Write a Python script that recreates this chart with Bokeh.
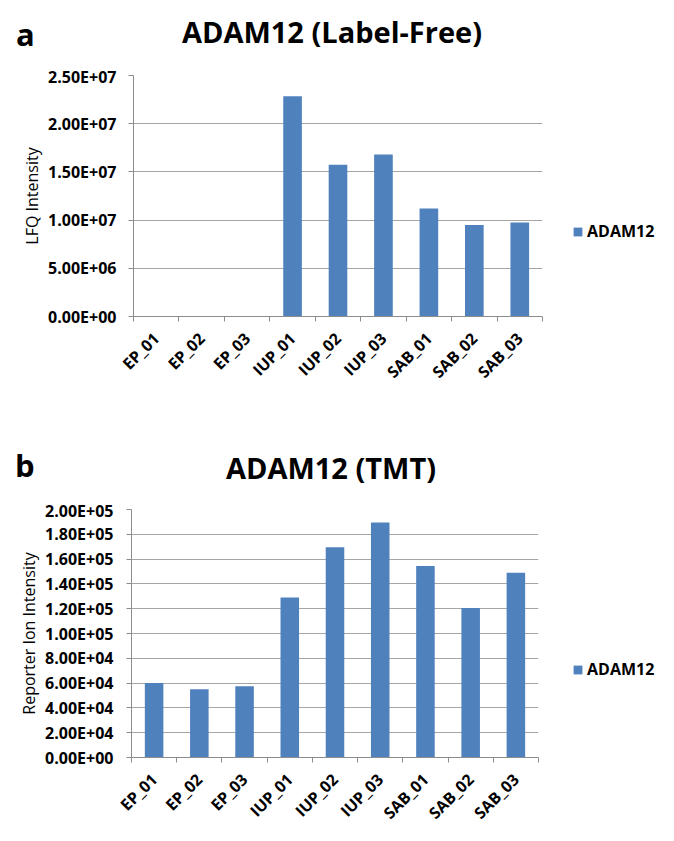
import math
from bokeh.plotting import figure
from bokeh.models import (Range1d, FixedTicker, LinearAxis, Div,
                          Legend, LegendItem, CustomJSTickFormatter, ColumnDataSource)
from bokeh.layouts import column, row
from bokeh.embed import file_html
from bokeh.resources import INLINE

# ---------------- data ----------------
samples = ["EP_01", "EP_02", "EP_03", "IUP_01", "IUP_02", "IUP_03", "SAB_01", "SAB_02", "SAB_03"]
series_name = "ADAM12"

lfq_values = [0, 0, 0, 2.285e7, 1.575e7, 1.68e7, 1.12e7, 9.5e6, 9.75e6]
lfq_ticks = [0, 5e6, 1e7, 1.5e7, 2e7, 2.5e7]
lfq_title = "ADAM12 (Label-Free)"
lfq_ylabel = "LFQ Intensity"

tmt_values = [6.0e4, 5.5e4, 5.75e4, 1.29e5, 1.695e5, 1.895e5, 1.545e5, 1.205e5, 1.49e5]
tmt_ticks = [0, 2e4, 4e4, 6e4, 8e4, 1e5, 1.2e5, 1.4e5, 1.6e5, 1.8e5, 2e5]
tmt_title = "ADAM12 (TMT)"
tmt_ylabel = "Reporter Ion Intensity"

# ---------------- style ----------------
FONT = "Open Sans"
BAR = "#4F81BD"
GRID = "#a6a6a6"
AXIS = "#8c8c8c"
TXT = "#000000"
W = 670

yfmt = CustomJSTickFormatter(code=r"""
const s = tick.toExponential(2).toUpperCase();
return s.replace(/E([+-])(\d)$/, (m, sg, d) => "E" + sg + "0" + d);
""")

xfmt = CustomJSTickFormatter(args=dict(labels=samples),
                             code="return labels[Math.floor(tick)];")


def header(letter, title, h, letter_left, letter_top, title_top, title_dx):
    html = (
        f'<div style="position:relative;width:{W}px;height:{h}px;'
        f'font-family:\'{FONT}\';font-weight:bold;color:{TXT};">'
        f'<span style="position:absolute;left:{letter_left}px;top:{letter_top}px;'
        f'font-size:31px;line-height:31px;">{letter}</span>'
        f'<span style="position:absolute;left:{title_dx}px;width:{W}px;top:{title_top}px;'
        f'text-align:center;font-size:29px;line-height:29px;white-space:nowrap;">{title}</span>'
        f'</div>'
    )
    return Div(text=html, width=W, height=h, margin=0)


def make_chart(values, ticks, ylabel, geo):
    n = len(samples)
    centers = [i + 0.5 for i in range(n)]  # category slot centers on the index scale
    src = ColumnDataSource(dict(sample=samples, pos=centers, value=values))
    pw = geo["left"] + geo["fw"] + 4
    p = figure(x_range=Range1d(0, n), y_range=Range1d(0, ticks[-1]),
               width=pw, height=geo["h"],
               min_border_left=geo["left"], min_border_right=4,
               min_border_top=geo["top"], min_border_bottom=geo["bottom"],
               x_axis_location=None, output_backend="svg", toolbar_location=None)
    p.outline_line_color = None
    p.background_fill_color = "white"
    p.border_fill_color = "white"

    # y axis
    ya = p.yaxis[0]
    ya.ticker = FixedTicker(ticks=ticks)
    ya.formatter = yfmt
    ya.axis_line_color = AXIS
    ya.major_tick_line_color = AXIS
    ya.major_tick_out = 5
    ya.major_tick_in = 0
    ya.minor_tick_line_color = None
    ya.major_label_text_font = FONT
    ya.major_label_text_font_style = "bold"
    ya.major_label_text_font_size = "16px"
    ya.major_label_text_color = TXT
    ya.major_label_standoff = geo["ystand"]
    ya.axis_label = ylabel
    ya.axis_label_text_font = FONT
    ya.axis_label_text_font_style = "normal"
    ya.axis_label_text_font_size = "16px"
    ya.axis_label_text_color = TXT
    ya.axis_label_standoff = 2

    p.ygrid.grid_line_color = GRID
    p.xgrid.visible = False

    # category axis: labels at slot centers, tick marks at slot boundaries
    xa = LinearAxis(ticker=FixedTicker(ticks=centers, minor_ticks=list(range(n + 1))),
                    formatter=xfmt,
                    axis_line_color=AXIS,
                    major_tick_line_color=None, major_tick_out=0, major_tick_in=0,
                    minor_tick_line_color=AXIS, minor_tick_out=5, minor_tick_in=0,
                    major_label_orientation=math.pi / 4,
                    major_label_standoff=geo["xstand"],
                    major_label_text_font=FONT,
                    major_label_text_font_style="bold",
                    major_label_text_font_size="16px",
                    major_label_text_color=TXT)
    p.add_layout(xa, "below")

    p.vbar(x="pos", top="value", width=0.41, source=src,
           fill_color=BAR, line_color=None)

    # legend panel: a bare figure beside the chart holding the series key
    lw = W - pw
    lp = figure(x_range=Range1d(0, 1), y_range=Range1d(0, 1),
                width=lw, height=geo["h"], min_border=0,
                x_axis_location=None, y_axis_location=None,
                output_backend="svg", toolbar_location=None)
    lp.outline_line_color = None
    lp.xgrid.visible = False
    lp.ygrid.visible = False
    key = lp.vbar(x="pos", top="value", width=0.41, source=src,
                  fill_color=BAR, line_color=None, visible=False)
    legend = Legend(items=[LegendItem(label=series_name, renderers=[key])],
                    location=(geo["legend"][0] - 4, geo["legend"][1]),
                    orientation="vertical",
                    glyph_width=11, glyph_height=11, label_standoff=4,
                    padding=0, margin=0, spacing=0,
                    label_text_font=FONT, label_text_font_style="bold",
                    label_text_font_size="16px", label_text_color=TXT,
                    background_fill_alpha=0, border_line_color=None)
    lp.add_layout(legend)
    return row(p, lp, spacing=0)


geo1 = dict(h=355, left=133, fw=409, top=10, bottom=104, ystand=12, xstand=14,
            legend=(30, 74))
geo2 = dict(h=338, left=131, fw=407, top=10, bottom=80, ystand=13, xstand=14,
            legend=(34, 77))

h1 = header("a", lfq_title, 65, 16, 18.5, 16.5, -3)
c1 = make_chart(lfq_values, lfq_ticks, lfq_ylabel, geo1)
h2 = header("b", tmt_title, 79, 15, 29.5, 33.25, -4)
c2 = make_chart(tmt_values, tmt_ticks, tmt_ylabel, geo2)

layout = column(h1, c1, h2, c2, spacing=0)
open("out.html", "w").write(file_html(layout, INLINE))
